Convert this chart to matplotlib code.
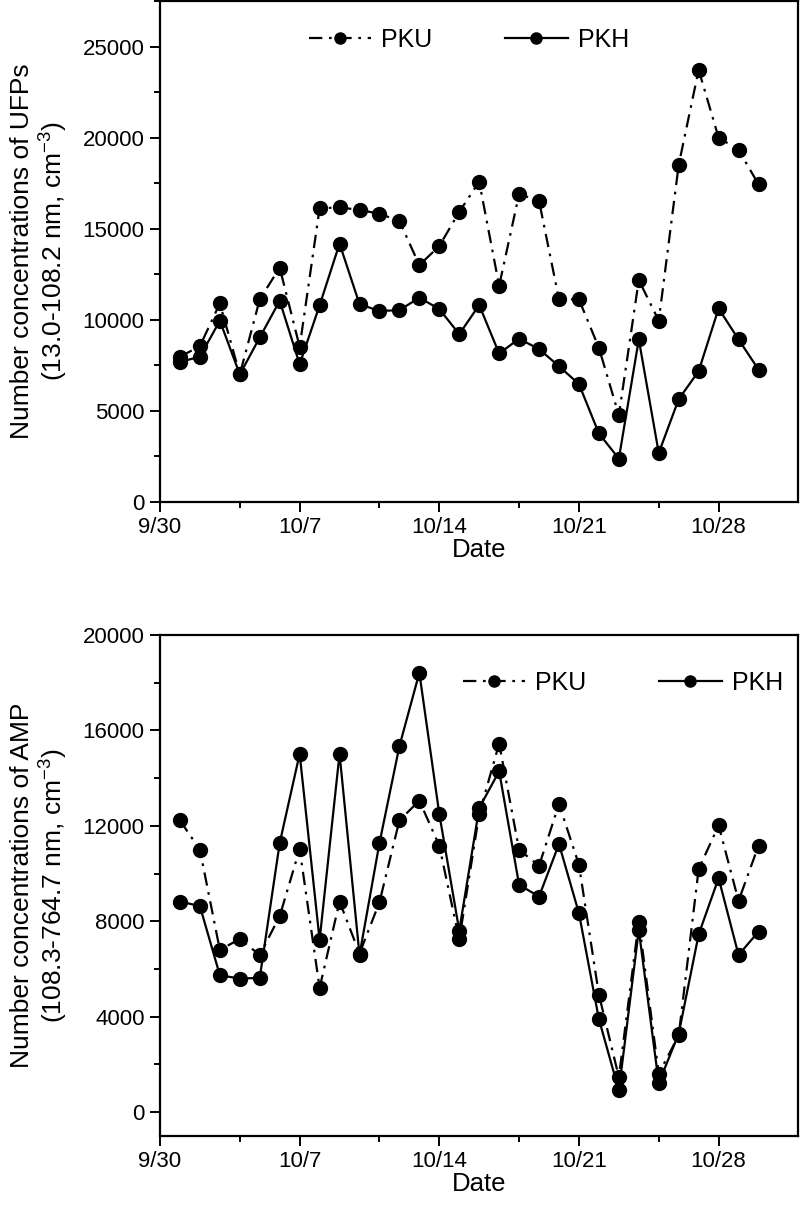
import matplotlib
matplotlib.use("Agg")
import matplotlib.pyplot as plt
import matplotlib.dates as mdates
from matplotlib.ticker import FixedLocator, MultipleLocator, FuncFormatter
import pandas as pd

plt.rcParams['font.family'] = ['Liberation Sans', 'DejaVu Sans']
plt.rcParams['mathtext.fontset'] = 'custom'
plt.rcParams['mathtext.rm'] = 'Liberation Sans'
plt.rcParams['mathtext.it'] = 'Liberation Sans'

# Daily values, 10/1 - 10/30
dates = pd.date_range("2013-10-01", "2013-10-30")

ufp_pku = [7970, 8550, 10900, 7000, 11120, 12860, 8520, 16120, 16170, 16030,
           15820, 15420, 13000, 14050, 15920, 17580, 11870, 16900, 16520, 11120,
           11120, 8460, 4760, 12180, 9950, 18500, 23720, 20000, 19320, 17440]
ufp_pkh = [7690, 7970, 9950, 7000, 9030, 11040, 7560, 10790, 14180, 10860,
           10480, 10530, 11210, 10590, 9210, 10810, 8150, 8960, 8390, 7450,
           6470, 3760, 2380, 8920, 2690, 5640, 7180, 10620, 8920, 7270]

amp_pku = [12230, 11000, 6800, 7260, 6590, 8220, 11030, 5210, 8830, 6650,
           8800, 12230, 13060, 11170, 7240, 12500, 15450, 11000, 10330, 12920,
           10370, 4930, 1470, 7990, 1610, 3220, 10190, 12020, 8860, 11170]
amp_pkh = [8830, 8640, 5740, 5600, 5630, 11280, 15020, 7220, 15020, 6590,
           11280, 15340, 18420, 12500, 7610, 12750, 14290, 9530, 9040, 11240,
           8340, 3900, 910, 7640, 1220, 3290, 7450, 9810, 6590, 7570]

major_dates = ["2013-09-30", "2013-10-07", "2013-10-14", "2013-10-21", "2013-10-28"]
minor_dates = ["2013-10-04", "2013-10-11", "2013-10-18", "2013-10-25"]
x_range = ["2013-09-30", "2013-11-01"]


def date_label(x, pos):
    d = mdates.num2date(x)
    return f"{d.month}/{d.day}"


def style_axis(ax, pku, pkh, ylim, ymajor, yminor, ylabel, legend_pos):
    ax.plot(dates, pku, color='black', lw=1.6, dashes=(6, 3, 1.2, 3),
            marker='o', ms=10, label='PKU')
    ax.plot(dates, pkh, color='black', lw=1.6, ls='-',
            marker='o', ms=10, label='PKH')

    ax.set_xlim(mdates.date2num(pd.to_datetime(x_range[0])),
                mdates.date2num(pd.to_datetime(x_range[1])))
    ax.set_ylim(*ylim)
    ax.xaxis.set_major_locator(FixedLocator(mdates.date2num(pd.to_datetime(major_dates))))
    ax.xaxis.set_minor_locator(FixedLocator(mdates.date2num(pd.to_datetime(minor_dates))))
    ax.xaxis.set_major_formatter(FuncFormatter(date_label))
    ax.yaxis.set_major_locator(MultipleLocator(ymajor))
    ax.yaxis.set_minor_locator(MultipleLocator(yminor))

    ax.tick_params(which='major', direction='out', length=7, width=1.4,
                   labelsize=16, pad=4, top=False, right=False)
    ax.tick_params(which='minor', direction='out', length=4, width=1.4,
                   top=False, right=False)
    for sp in ax.spines.values():
        sp.set_linewidth(1.6)

    ax.set_xlabel("Date", fontsize=18.5, labelpad=0)
    ax.set_ylabel(ylabel, fontsize=19, linespacing=1.15)
    ax.yaxis.set_label_coords(-0.141, 0.5)

    ax.legend(loc='center', bbox_to_anchor=legend_pos, ncol=2, frameon=False,
              fontsize=18, handlelength=2.5, columnspacing=2.9,
              handletextpad=0.4, markerscale=0.8)


fig = plt.figure(figsize=(8, 12.11), dpi=100)
ax1 = fig.add_axes([0.2, 0.5855, 0.798, 0.4137])
ax2 = fig.add_axes([0.2, 0.0619, 0.798, 0.4137])

style_axis(ax1, ufp_pku, ufp_pkh, (0, 27500), 5000, 2500,
           "Number concentrations of UFPs\n(13.0-108.2 nm, cm$^{-3}$)", (0.484, 0.922))
style_axis(ax2, amp_pku, amp_pkh, (-1000, 20000), 4000, 2000,
           "Number concentrations of AMP\n(108.3-764.7 nm, cm$^{-3}$)", (0.725, 0.904))

fig.savefig("out.png", dpi=100)
